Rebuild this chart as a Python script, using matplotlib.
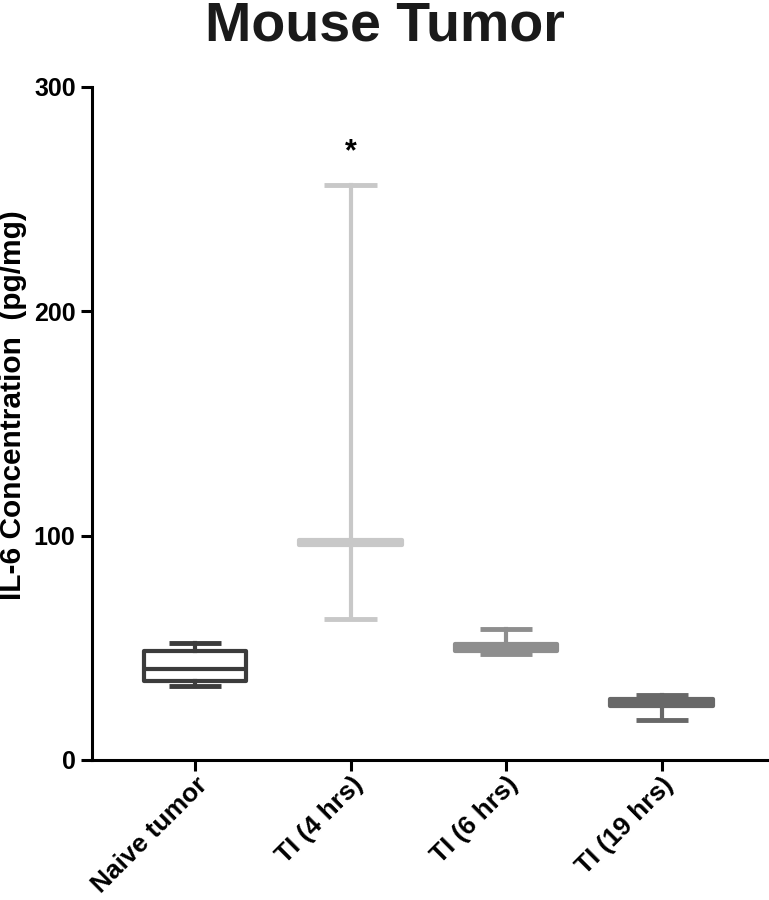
import matplotlib
matplotlib.use('Agg')
import matplotlib.pyplot as plt

plt.rcParams['font.family'] = ['Liberation Sans', 'DejaVu Sans']
plt.rcParams['font.weight'] = 'bold'

# Data (pg/mg)
groups = ['Naive tumor', 'TI (4 hrs)', 'TI (6 hrs)', 'TI (19 hrs)']
whisker_low = [33, 63, 47, 18]
q1 = [35, 96, 48.5, 24]
median = [40.5, 97, 50, 25.5]
q3 = [48.5, 98, 51.5, 27]
whisker_high = [52, 256, 58.5, 29]
colors = ['#3c3c3c', '#c8c8c8', '#8e8e8e', '#686868']

fig = plt.figure(figsize=(7.69, 9.0), dpi=100)
ax = fig.add_axes([0.12, 0.1556, 0.88, 0.748])

positions = list(range(1, len(groups) + 1))
for i, pos in enumerate(positions):
    stats = [dict(whislo=whisker_low[i], q1=q1[i], med=median[i],
                  q3=q3[i], whishi=whisker_high[i], label=groups[i])]
    c = colors[i]
    ax.bxp(stats, positions=[pos], widths=0.66, capwidths=0.335,
           showfliers=False, patch_artist=True,
           boxprops=dict(facecolor='white', edgecolor=c, linewidth=3,
                         joinstyle='round'),
           medianprops=dict(color=c, linewidth=3, solid_capstyle='butt'),
           whiskerprops=dict(color=c, linewidth=3),
           capprops=dict(color=c, linewidth=3.5, solid_capstyle='butt'))

# significance marker
ax.text(2, 271, '*', ha='center', va='center', fontsize=22, fontweight='bold')

ax.set_xlim(0.34, 4.69)
ax.set_ylim(0, 300)
ax.set_yticks([0, 100, 200, 300])
ax.set_xticks(positions)
ax.set_xticklabels(groups, rotation=45, ha='right', rotation_mode='anchor',
                   fontsize=19, fontweight='bold')
ax.tick_params(axis='y', labelsize=18, width=2.2, length=8, pad=4)
ax.tick_params(axis='x', width=2.2, length=8, pad=1)
for lab in ax.get_yticklabels():
    lab.set_fontweight('bold')

for side in ['top', 'right']:
    ax.spines[side].set_visible(False)
for side in ['left', 'bottom']:
    ax.spines[side].set_linewidth(2.2)

ax.set_ylabel('IL-6 Concentration  (pg/mg)', fontsize=21.5, fontweight='bold')
ax.yaxis.set_label_coords(-0.097, 0.527)

fig.text(0.5, 0.971, 'Mouse Tumor', ha='center', va='center',
         fontsize=40, fontweight='bold', color='#1a1a1a')

plt.savefig('out.png', dpi=100)
